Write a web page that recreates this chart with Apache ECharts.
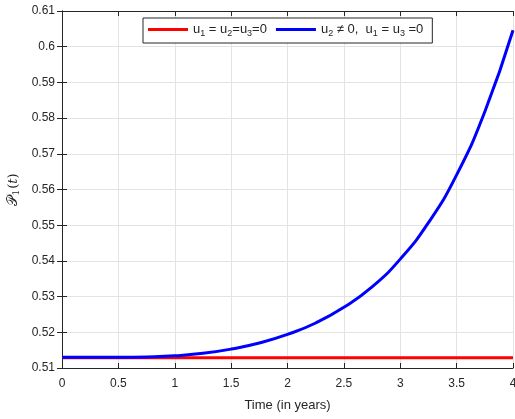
<!DOCTYPE html>
<html>
<head>
<meta charset="utf-8">
<script src="https://cdn.jsdelivr.net/npm/echarts@6/dist/echarts.min.js"></script>
<style>html,body{margin:0;padding:0;background:#fff}#c{width:515px;height:419px}</style>
</head>
<body>
<div id="c"></div>
<script>
var times = [0, 0.25, 0.5, 0.75, 1.0, 1.25, 1.5, 1.75, 2.0, 2.25, 2.5, 2.75, 3.0, 3.25, 3.5, 3.75, 4.0];
var noControl = [0.5129, 0.5129, 0.5129, 0.5129, 0.5129, 0.5129, 0.5129, 0.5129, 0.5129, 0.5129, 0.5129, 0.5129, 0.5129, 0.5129, 0.5129, 0.5129, 0.5129];
var u2Control = [0.5130, 0.5130, 0.5130, 0.5131, 0.5134, 0.5141, 0.5153, 0.5170, 0.5194, 0.5226, 0.5270, 0.5327, 0.5405, 0.5507, 0.5641, 0.5818, 0.6046];
var xTickLabels = ['0', '0.5', '1', '1.5', '2', '2.5', '3', '3.5', '4'];
var yTickLabels = ['0.51', '0.52', '0.53', '0.54', '0.55', '0.56', '0.57', '0.58', '0.59', '0.6', '0.61'];

function pairs(xs, ys) { return xs.map(function (x, i) { return [x, ys[i]]; }); }

var FONT = 'Liberation Sans, Arial, Helvetica, sans-serif';
var AX = '#262626';
var GRID = '#e3e3e3';

var chart = echarts.init(document.getElementById('c'), null, { renderer: 'canvas' });
var legendRich = {
  n: { fontSize: 13, fontFamily: FONT, color: AX },
  s: { fontSize: 9, fontFamily: FONT, color: AX, padding: [8, 0, 0, 0] }
};
var option = {
  animation: false,
  backgroundColor: '#fff',
  grid: { left: 62, right: 2, top: 11, bottom: 51, containLabel: false, outerBoundsMode: 'none' },
  legend: {
    top: 18, left: 143,
    orient: 'horizontal',
    backgroundColor: '#fff',
    borderColor: AX, borderWidth: 1,
    padding: [5, 9, 5, 5],
    itemGap: 9,
    itemWidth: 40, itemHeight: 3,
    icon: 'rect',
    data: ['a', 'b'],
    formatter: function (name) {
      if (name === 'a') return '{n|u}{s|1}{n| = u}{s|2}{n|=u}{s|3}{n|=0}';
      return '{n|u}{s|2}{n| \u2260 0,  u}{s|1}{n| = u}{s|3}{n| =0}';
    },
    textStyle: { fontFamily: FONT, fontSize: 13, color: AX, rich: legendRich }
  },
  xAxis: [{
    type: 'value', min: 0, max: 4, interval: 0.5,
    name: 'Time (in years)', nameLocation: 'middle', nameGap: 31,
    nameTextStyle: { fontFamily: FONT, fontSize: 13, color: AX },
    axisLine: { lineStyle: { color: AX, width: 1 } },
    axisTick: { inside: true, length: 5, lineStyle: { color: AX } },
    axisLabel: { fontFamily: FONT, fontSize: 12, color: AX, margin: 10,
      formatter: function (v) { var i = Math.round(v / 0.5); return xTickLabels[i] !== undefined ? xTickLabels[i] : ''; } },
    splitLine: { show: true, lineStyle: { color: GRID, width: 1 } }
  }, {
    type: 'value', min: 0, max: 4, interval: 0.5, position: 'top',
    axisLine: { show: true, lineStyle: { color: AX, width: 1 } },
    axisTick: { show: true, inside: true, length: 5, lineStyle: { color: AX } },
    axisLabel: { show: false }, splitLine: { show: false }
  }],
  yAxis: [{
    type: 'value', min: 0.51, max: 0.61, interval: 0.01,
    name: '{p|\uD835\uDCAB}{s|1}{t|(}{i|t}{t|)}', nameLocation: 'middle', nameGap: 41, nameRotate: 90,
    nameTextStyle: { fontFamily: FONT, fontSize: 13, color: AX,
      rich: {
        p: { fontSize: 14, fontFamily: 'DejaVu Serif, Noto Sans, serif', color: AX },
        s: { fontSize: 9, fontFamily: 'DejaVu Serif, serif', color: AX, padding: [6, 1, 0, 0] },
        t: { fontSize: 13, fontFamily: 'DejaVu Serif, serif', color: AX },
        i: { fontSize: 13, fontFamily: 'DejaVu Serif, serif', fontStyle: 'italic', color: AX }
      } },
    axisLine: { show: true, lineStyle: { color: AX, width: 1 } },
    axisTick: { show: true, inside: true, length: 5, lineStyle: { color: AX } },
    axisLabel: { fontFamily: FONT, fontSize: 12, color: AX, margin: 7,
      formatter: function (v) { var i = Math.round((v - 0.51) / 0.01); return yTickLabels[i] !== undefined ? yTickLabels[i] : ''; } },
    splitLine: { show: true, lineStyle: { color: GRID, width: 1 } }
  }, {
    type: 'value', min: 0.51, max: 0.61, interval: 0.01, position: 'right',
    axisLine: { show: true, lineStyle: { color: AX, width: 1 } },
    axisTick: { show: true, inside: true, length: 5, lineStyle: { color: AX } },
    axisLabel: { show: false }, splitLine: { show: false }
  }],
  series: [{
    name: 'a', type: 'line', data: pairs(times, noControl), showSymbol: false,
    lineStyle: { color: '#ff0000', width: 3 }, itemStyle: { color: '#ff0000' }, z: 2
  }, {
    name: 'b', type: 'line', data: pairs(times, u2Control), showSymbol: false, smooth: true,
    lineStyle: { color: '#0000ff', width: 3 }, itemStyle: { color: '#0000ff' }, z: 3
  }]
};
chart.setOption(option);
</script>
</body>
</html>
